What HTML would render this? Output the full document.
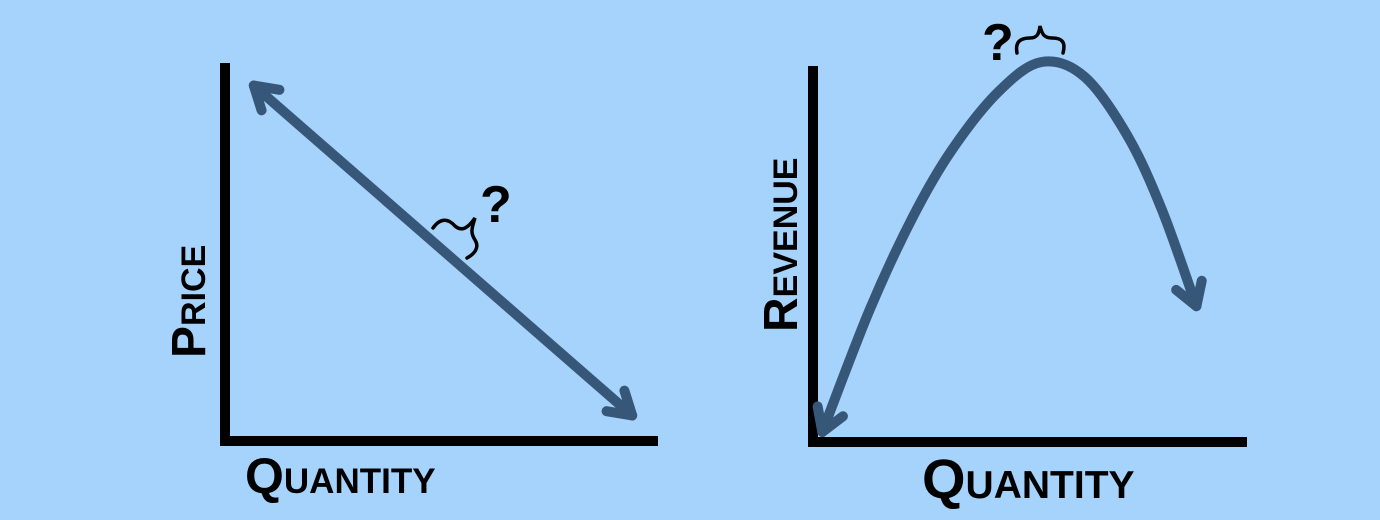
<!DOCTYPE html>
<html><head><meta charset="utf-8">
<style>
html,body{margin:0;padding:0;background:#a6d3fc;}
svg{display:block;}
text{font-family:"Liberation Sans",sans-serif;font-weight:bold;fill:#000;font-variant:small-caps;}
</style></head>
<body>
<svg id="c" width="1380" height="520" viewBox="0 0 1380 520">
  <rect width="1380" height="520" fill="#a6d3fc"/>
  <path d="M225 63 L225 441 L658 441" fill="none" stroke="#000" stroke-width="10"/>
  <text x="205" y="358" font-size="48" transform="rotate(-90 205 358)">Price</text>
  <text x="245" y="493" font-size="50">Quantity</text>
  <path d="M813 66 L813 442 L1247 442" fill="none" stroke="#000" stroke-width="10"/>
  <text x="797" y="332" font-size="48" transform="rotate(-90 797 332)">Revenue</text>
  <text x="922" y="498" font-size="56">Quantity</text>
  <path d="M433 228 C440 218 448 218 455 226 C462 232 468 228 475 218 C472 228 470 232 475 240 C480 248 474 254 467 258" fill="none" stroke="#000" stroke-width="3.5" stroke-linecap="round"/>
  <text x="480" y="222" font-size="52">?</text>
  <path d="M1017 53 C1015 42 1020 38 1030 38 C1037 38 1039 34 1040 26 C1042 34 1044 38 1052 38 C1062 38 1066 42 1063 53" fill="none" stroke="#000" stroke-width="3.5" stroke-linecap="round"/>
  <text x="982" y="60" font-size="52">?</text>
  <g id="marks"></g>
</svg>
<script>
// Left chart: demand line (quantity, price) in 0..100 units
const demandQ = [6, 94];
const demandP = [94, 6];
// Right chart: revenue curve
const revQ = [1, 12, 22, 31, 42, 52, 62, 72, 80, 88];
const revR = [0, 33, 58, 76, 92, 100, 96, 80, 60, 34];

const NS = "http://www.w3.org/2000/svg";
const marks = document.getElementById('marks');
const lx = q => 228 + q * 4.3, ly = p => 438 - p * 3.75;
const rx = q => 818 + q * 4.3, ry = r => 432 - r * 3.7;

function arrowHead(x, y, ang, name) {
  const a = 0.55, L = 26;
  const p = document.createElementNS(NS, 'path');
  const x1 = x - L * Math.cos(ang - a), y1 = y - L * Math.sin(ang - a);
  const x2 = x - L * Math.cos(ang + a), y2 = y - L * Math.sin(ang + a);
  p.setAttribute('d', `M${x1} ${y1} L${x} ${y} L${x2} ${y2}`);
  p.setAttribute('fill', 'none');
  p.setAttribute('stroke', '#375779');
  p.setAttribute('stroke-width', '10');
  p.setAttribute('stroke-linecap', 'round');
  p.setAttribute('stroke-linejoin', 'round');
  
  
  marks.appendChild(p);
}

const dl = document.createElementNS(NS, 'path');
const dpts = demandQ.map((q, i) => [lx(q), ly(demandP[i])]);
dl.setAttribute('d', 'M' + dpts.map(p => p.join(' ')).join(' L'));
dl.setAttribute('stroke', '#375779');
dl.setAttribute('stroke-width', '10');
dl.setAttribute('fill', 'none');
dl.setAttribute('stroke-linecap', 'round');


marks.appendChild(dl);
{
  const [a, b] = dpts;
  const ang = Math.atan2(b[1] - a[1], b[0] - a[0]);
  arrowHead(b[0], b[1], ang, 'demand-arrow-end');
  arrowHead(a[0], a[1], ang + Math.PI, 'demand-arrow-start');
}

const rpts = revQ.map((q, i) => [rx(q), ry(revR[i])]);
let d = `M${rpts[0][0]} ${rpts[0][1]}`;
for (let i = 0; i < rpts.length - 1; i++) {
  const p0 = rpts[Math.max(0, i - 1)], p1 = rpts[i], p2 = rpts[i + 1], p3 = rpts[Math.min(rpts.length - 1, i + 2)];
  const c1 = [p1[0] + (p2[0] - p0[0]) / 6, p1[1] + (p2[1] - p0[1]) / 6];
  const c2 = [p2[0] - (p3[0] - p1[0]) / 6, p2[1] - (p3[1] - p1[1]) / 6];
  d += ` C${c1[0]} ${c1[1]} ${c2[0]} ${c2[1]} ${p2[0]} ${p2[1]}`;
}
const rc = document.createElementNS(NS, 'path');
rc.setAttribute('d', d);
rc.setAttribute('stroke', '#375779');
rc.setAttribute('stroke-width', '10');
rc.setAttribute('fill', 'none');
rc.setAttribute('stroke-linecap', 'round');


marks.appendChild(rc);
{
  const n = rpts.length;
  const e = rpts[n - 1], pe = rpts[n - 2];
  arrowHead(e[0], e[1], Math.atan2(e[1] - pe[1], e[0] - pe[0]), 'revenue-arrow-end');
  const s = rpts[0], ps = rpts[1];
  arrowHead(s[0], s[1], Math.atan2(s[1] - ps[1], s[0] - ps[0]), 'revenue-arrow-start');
}
</script>
</body></html>
